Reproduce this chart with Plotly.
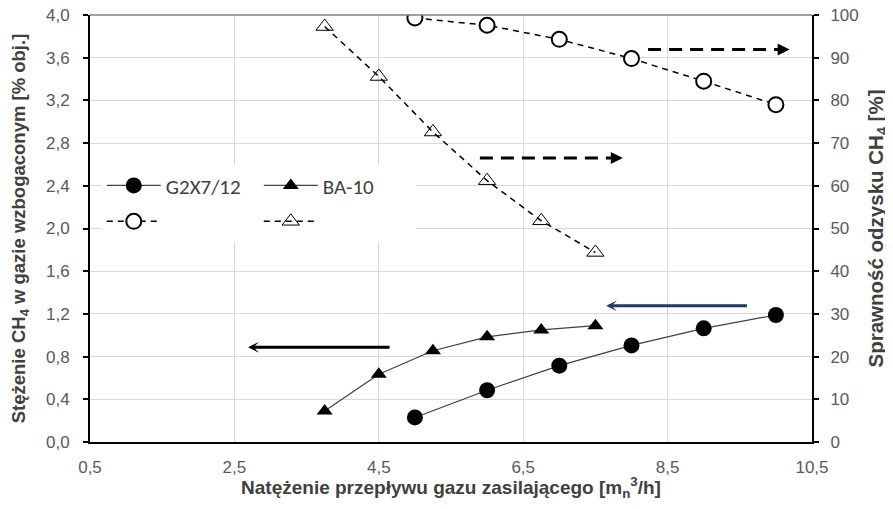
import plotly.graph_objects as go

# ---- data ----
g2x_flow = [5.0, 6.0, 7.0, 8.0, 9.0, 10.0]
g2x_conc = [0.23, 0.485, 0.715, 0.905, 1.065, 1.19]
g2x_recovery = [99.3, 97.6, 94.3, 89.8, 84.5, 79.0]

ba_flow = [3.75, 4.5, 5.25, 6.0, 6.75, 7.5]
ba_conc = [0.29, 0.635, 0.855, 0.985, 1.05, 1.09]
ba_recovery = [97.3, 85.6, 72.6, 61.2, 51.8, 44.4]

x_ticks = [0.5, 2.5, 4.5, 6.5, 8.5, 10.5]

# arrows: (x_tail, x_tip, y)
arrow_left_black = (4.67, 2.69, 0.887)      # left axis
arrow_left_navy = (9.62, 7.65, 1.276)       # left axis
arrow_right_top = (8.23, 10.19, 91.9)       # right axis
arrow_right_mid = (5.90, 7.88, 66.5)        # right axis

TICK_FONT = dict(family="Liberation Sans, Arial", size=17, color="#595959")
def title_font(sz):
    return dict(family="Liberation Sans, Arial", size=sz, color="#404040", weight="bold")
LEG_FONT = dict(family="Carlito, Lato, Liberation Sans", size=21, color="#404040")

fig = go.Figure()

fig.add_trace(go.Scatter(
    x=g2x_flow, y=g2x_conc, name="G2X7/12", mode="lines+markers",
    line=dict(color="#404040", width=1.2),
    marker=dict(symbol="circle", size=16, color="black"),
    legend="legend"))
fig.add_trace(go.Scatter(
    x=ba_flow, y=ba_conc, name="BA-10", mode="lines+markers",
    line=dict(color="#404040", width=1.2),
    marker=dict(symbol="triangle-up", size=14, color="black"),
    legend="legend"))
fig.add_trace(go.Scatter(
    x=g2x_flow, y=g2x_recovery, name=" ", mode="lines+markers", yaxis="y2",
    line=dict(color="black", width=1.5, dash="6px,5px"),
    marker=dict(symbol="circle", size=15, color="white", line=dict(color="black", width=2)),
    legend="legend2"))
fig.add_trace(go.Scatter(
    x=ba_flow, y=ba_recovery, name="  ", mode="lines+markers", yaxis="y2",
    line=dict(color="black", width=1.5, dash="6px,5px"),
    marker=dict(symbol="triangle-up-open", size=15, color="black", line=dict(color="black", width=1)),
    legend="legend2"))

annotations = []
shapes = []

# solid arrows (left axis)
for (xt, xh, yv), col in [(arrow_left_black, "black"), (arrow_left_navy, "#1F3864")]:
    annotations.append(dict(
        x=xh, y=yv, ax=xt, ay=yv, xref="x", yref="y", axref="x", ayref="y",
        showarrow=True, arrowhead=3, arrowsize=0.6, arrowwidth=3, arrowcolor=col, text=""))

# dashed arrows (right axis)
for (xt, xh, yv) in [arrow_right_top, arrow_right_mid]:
    shapes.append(dict(type="line", xref="x", yref="y2", x0=xt, x1=xh - 0.12, y0=yv, y1=yv,
                       line=dict(color="black", width=3, dash="13px,8px")))
    annotations.append(dict(
        x=xh, y=yv, ax=-6, ay=0, xref="x", yref="y2",
        showarrow=True, arrowhead=2, arrowsize=0.8, arrowwidth=3, arrowcolor="black", text=""))

# top border
shapes.append(dict(type="line", xref="paper", yref="paper", x0=0, x1=1, y0=1, y1=1,
                   line=dict(color="#808080", width=1.5)))

# page body has an 8px default margin -> compensate
fig.update_layout(
    width=885, height=493,
    margin=dict(l=82, r=81, t=6.5, b=58.5),
    paper_bgcolor="white", plot_bgcolor="white",
    separators=", ",
    showlegend=True,
    xaxis=dict(
        range=[0.5, 10.5], tickvals=x_ticks, tickformat=".1f", automargin=False,
        showgrid=True, gridcolor="#D9D9D9", gridwidth=1,
        showline=True, linecolor="black", linewidth=2,
        ticks="", tickfont=TICK_FONT, ticklabelstandoff=9, ticklabeloverflow="allow",
        zeroline=False,
        title=dict(text="Natężenie przepływu gazu zasilającego [m<sub>n</sub><sup>3</sup>/h]",
                   font=title_font(19), standoff=12)),
    yaxis=dict(
        range=[0, 4], dtick=0.4, tick0=0, tickformat=".1f", automargin=False,
        showgrid=True, gridcolor="#D9D9D9", gridwidth=1,
        showline=True, linecolor="black", linewidth=2,
        ticks="outside", ticklen=5, tickcolor="black", tickwidth=1.5,
        tickfont=TICK_FONT, ticklabelstandoff=10, ticklabeloverflow="allow", zeroline=False,
        title=dict(text="Stężenie CH<sub>4</sub> w gazie wzbogaconym [% obj.]",
                   font=title_font(18.5), standoff=18)),
    yaxis2=dict(
        range=[0, 100], dtick=10, tick0=0, overlaying="y", side="right", automargin=False,
        showgrid=False, showline=True, linecolor="black", linewidth=2,
        ticks="outside", ticklen=5, tickcolor="black", tickwidth=1.5,
        tickfont=TICK_FONT, ticklabelstandoff=8, ticklabeloverflow="allow", zeroline=False,
        title=dict(text="Sprawność odzysku CH<sub>4</sub> [%]",
                   font=title_font(20.5), standoff=11)),
    legend=dict(orientation="h", x=0.0163, y=0.60, xanchor="left", yanchor="middle",
                bgcolor="white", font=LEG_FONT, itemwidth=54,
                entrywidth=88, entrywidthmode="pixels", tracegroupgap=0),
    legend2=dict(orientation="h", x=0.0163, y=0.516, xanchor="left", yanchor="middle",
                 bgcolor="white", font=LEG_FONT, itemwidth=54,
                 entrywidth=88, entrywidthmode="pixels"),
    annotations=annotations,
    shapes=shapes,
)

fig.write_html("out.html")
